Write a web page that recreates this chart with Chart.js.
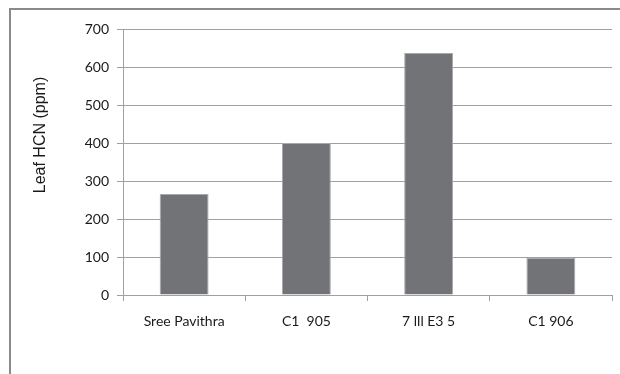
<!DOCTYPE html>
<html>
<head>
<meta charset="utf-8">
<script src="https://cdn.jsdelivr.net/npm/chart.js@4/dist/chart.umd.min.js"></script>
<style>
  html, body { margin: 0; padding: 0; background: #ffffff; }
  #wrap { position: relative; width: 620px; height: 374px; }
</style>
</head>
<body>
<div id="wrap"><canvas id="c" width="620" height="374"></canvas></div>
<script>
// Leaf HCN content by cassava variety
const varieties = ['Sree Pavithra', 'C1  905', '7 lll E3 5', 'C1 906'];
const leafHCN = [266, 400, 637, 98];
const yTicks = [0, 100, 200, 300, 400, 500, 600, 700];
const yTitle = 'Leaf HCN (ppm)';

const lineGrey = '#a0a0a0';
const textColor = '#1a1a1a';
const tickFont = { family: 'Lato, "Open Sans", sans-serif', size: 14 };

// Outer frame (left and top edges) and the rotated value-axis caption
const framePlugin = {
  id: 'frame',
  beforeDraw(chart) {
    const ctx = chart.ctx;
    ctx.save();
    ctx.strokeStyle = '#8a8a8a';
    ctx.lineWidth = 2;
    ctx.beginPath();
    ctx.moveTo(10, 374);
    ctx.lineTo(10, 9);
    ctx.lineTo(620, 9);
    ctx.stroke();
    ctx.restore();
  },
  afterDraw(chart) {
    const ctx = chart.ctx;
    ctx.save();
    ctx.translate(41, 135);
    ctx.rotate(-Math.PI / 2);
    ctx.fillStyle = textColor;
    ctx.font = '16px "Liberation Sans", Arial, sans-serif';
    ctx.textAlign = 'center';
    ctx.textBaseline = 'middle';
    ctx.fillText(yTitle, 0, 0);
    ctx.restore();
  }
};

new Chart(document.getElementById('c'), {
  type: 'bar',
  data: {
    labels: varieties,
    datasets: [{
      data: leafHCN,
      backgroundColor: '#727377',
      borderColor: '#a9a9ab',
      borderWidth: 1,
      barPercentage: 0.4,
      categoryPercentage: 1.0
    }]
  },
  options: {
    responsive: false,
    animation: false,
    devicePixelRatio: 1,
    layout: { padding: { top: 29, right: 8, left: 0, bottom: 0 } },
    plugins: {
      legend: { display: false },
      tooltip: { enabled: false }
    },
    scales: {
      x: {
        grid: {
          display: true,
          drawOnChartArea: false,
          drawTicks: true,
          tickLength: 6,
          color: lineGrey,
          offset: true
        },
        border: { display: true, color: lineGrey, width: 1 },
        ticks: { color: textColor, font: tickFont, padding: 12, maxRotation: 0 },
        afterFit(scale) { scale.height = 79; }
      },
      y: {
        min: 0,
        max: 700,
        afterBuildTicks(scale) { scale.ticks = yTicks.map(v => ({ value: v })); },
        grid: {
          color: lineGrey,
          lineWidth: 1,
          drawTicks: true,
          tickLength: 6
        },
        border: { display: true, color: lineGrey, width: 1 },
        ticks: { color: textColor, font: tickFont, padding: 8 },
        afterFit(scale) { scale.width = 123; }
      }
    }
  },
  plugins: [framePlugin]
});
</script>
</body>
</html>
